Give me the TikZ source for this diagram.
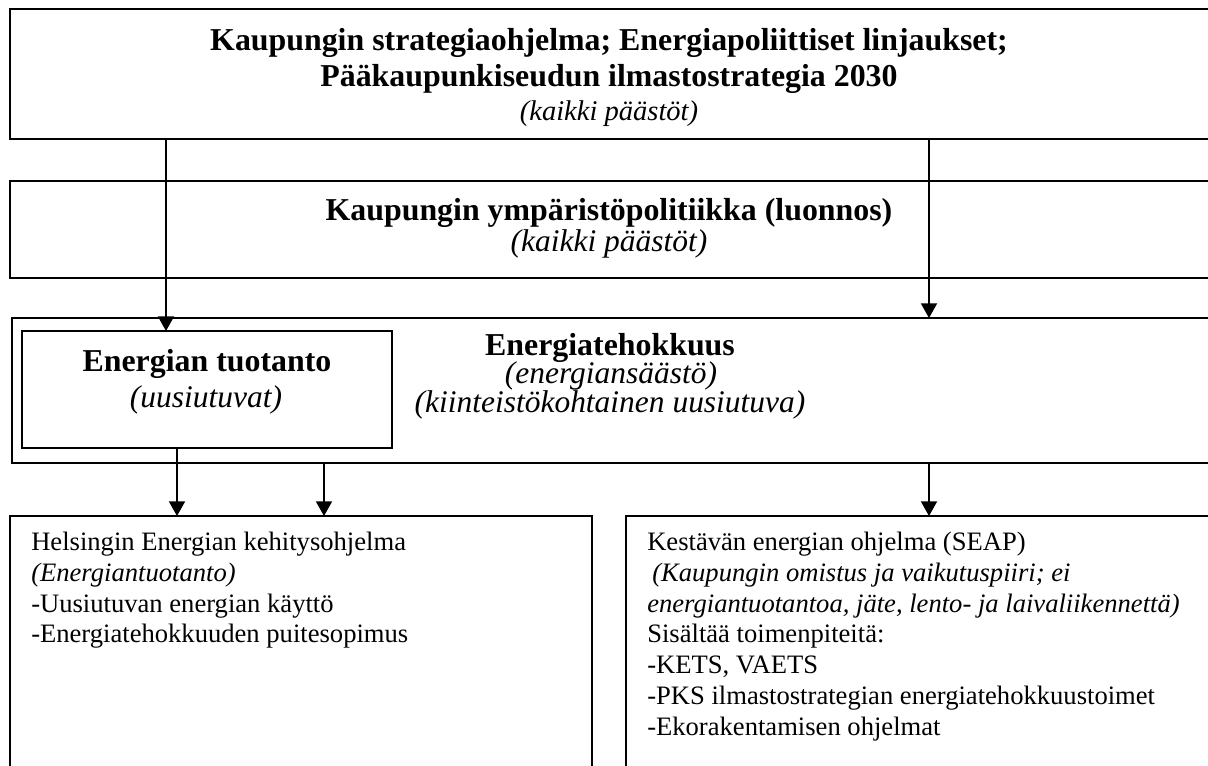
\documentclass[tikz,border=0pt]{standalone}
\usepackage{fontspec}
\setmainfont{Liberation Serif}
\usetikzlibrary{arrows.meta}
\newcommand\titlefnt{\fontsize{23.9pt}{28pt}\selectfont\bfseries}
\newcommand\subfnt{\fontsize{23.6pt}{28pt}\selectfont\itshape}
\newcommand\smallsubfnt{\fontsize{21.4pt}{26pt}\selectfont\itshape}
\newcommand\bodyfnt{\fontsize{19.95pt}{23.1pt}\selectfont}
\begin{document}
\begin{tikzpicture}[x=0.75pt,y=-0.75pt,
  box/.style={draw,line width=1.4pt,inner sep=0pt,outer sep=0pt,anchor=north west},
  ttl/.style={inner sep=0pt,anchor=base,font=\titlefnt},
  sub/.style={inner sep=0pt,anchor=base,font=\subfnt},
  body/.style={inner sep=0pt,anchor=base west,font=\bodyfnt},
  bodyit/.style={inner sep=0pt,anchor=base west,font=\bodyfnt\itshape},
  arr/.style={line width=1.4pt,-{Triangle[length=11pt,width=12pt]}}]
\useasboundingbox (0,0) rectangle (1208,765);
% boxes
\node[box,minimum width=903pt,minimum height=97.5pt] (top) at (10,9) {};
\node[box,minimum width=903pt,minimum height=72.75pt] (env) at (10,181) {};
\node[box,minimum width=901.5pt,minimum height=108.75pt] (eff) at (12,318) {};
\node[box,minimum width=277.5pt,minimum height=87.75pt] (prod) at (22,331) {};
\node[box,minimum width=436.5pt,minimum height=194pt] (hel) at (10,516) {};
\node[box,minimum width=441pt,minimum height=194pt] (seap) at (626,516) {};
% texts
\node[ttl] (t1) at (609,50) {Kaupungin strategiaohjelma; Energiapoliittiset linjaukset;};
\node[ttl] (t2) at (609,86) {Pääkaupunkiseudun ilmastostrategia 2030};
\node[inner sep=0pt,anchor=base,font=\smallsubfnt] (t3) at (609,120) {(kaikki päästöt)};
\node[ttl] (e1) at (609,220) {Kaupungin ympäristöpolitiikka (luonnos)};
\node[sub] (e2) at (609,251) {(kaikki päästöt)};
\node[ttl,text depth=0pt] (f1) at (610,355) {Energiatehokkuus};
\node[sub,text depth=0pt] (f2) at (611,383) {(energiansäästö)};
\node[sub] (f3) at (610,412) {(kiinteistökohtainen uusiutuva)};
\node[ttl] (p1) at (207,371) {Energian tuotanto};
\node[sub] (p2) at (206,407) {(uusiutuvat)};
\node[body] (h1) at (31,550) {Helsingin Energian kehitysohjelma};
\node[bodyit] (h2) at (31,581) {(Energiantuotanto)};
\node[body] (h3) at (31,612) {-Uusiutuvan energian käyttö};
\node[body] (h4) at (31,642) {-Energiatehokkuuden puitesopimus};
\node[body] (s1) at (647,550) {Kestävän energian ohjelma (SEAP)};
\node[bodyit] (s2) at (652,581) {(Kaupungin omistus ja vaikutuspiiri; ei};
\node[bodyit] (s3) at (647,612) {energiantuotantoa, jäte, lento- ja laivaliikennettä)};
\node[body] (s4) at (647,642) {Sisältää toimenpiteitä:};
\node[body] (s5) at (647,673) {-KETS, VAETS};
\node[body] (s6) at (647,704) {-PKS ilmastostrategian energiatehokkuustoimet};
\node[body] (s7) at (647,735) {-Ekorakentamisen ohjelmat};
% connectors
\coordinate (a1) at (166,0);
\coordinate (a2) at (929,0);
\coordinate (a3) at (177,0);
\coordinate (a4) at (324,0);
\draw[arr] (top.south -| a1) -- (prod.north -| a1);
\draw[arr] (top.south -| a2) -- (eff.north -| a2);
\draw[arr] (prod.south -| a3) -- (hel.north -| a3);
\draw[arr] (eff.south -| a4) -- (hel.north -| a4);
\draw[arr] (eff.south -| a2) -- (seap.north -| a2);
\end{tikzpicture}
\end{document}
